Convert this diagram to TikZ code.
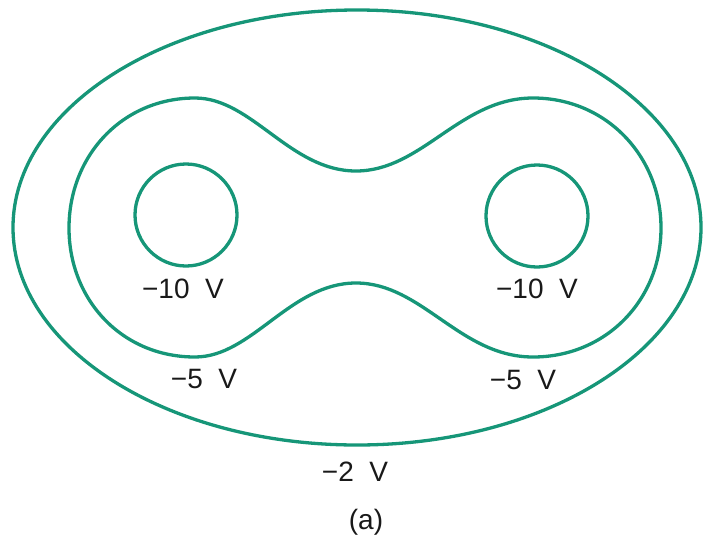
\documentclass[tikz,border=0pt]{standalone}
\usepackage{fontspec}
\setmainfont{Liberation Sans}
\definecolor{eqline}{RGB}{22,150,120}
\definecolor{labeltext}{RGB}{25,25,25}
\begin{document}
\begin{tikzpicture}[x=1pt,y=-1pt,
  contour/.style={draw=eqline,line width=3.3pt},
  vlabel/.style={text=labeltext,font=\fontsize{28}{30}\selectfont,inner sep=0pt}]
\useasboundingbox (0,0) rectangle (713,547);
% outer -2 V
\draw[contour] (357,227.5) ellipse [x radius=344, y radius=217.5];
% -5 V peanut
\draw[contour] (69,228)
  .. controls (69,156) and (122,98) .. (195,98)
  .. controls (252,98) and (290,171) .. (356,171)
  .. controls (422,171) and (460,98) .. (533,98)
  .. controls (606,98) and (661,156) .. (661,228)
  .. controls (661,300) and (606,357) .. (533,357)
  .. controls (460,357) and (422,283) .. (356,283)
  .. controls (290,283) and (252,357) .. (195,357)
  .. controls (122,357) and (69,300) .. (69,228) -- cycle;
% -10 V circles
\draw[contour] (186,215) circle [radius=51];
\draw[contour] (537,216) circle [radius=51];
% labels
\node[vlabel] (l10a) at (183,289) {−10\ \ V};
\node[vlabel] (l10b) at (537,289) {−10\ \ V};
\node[vlabel] (l5a) at (204,379) {−5\ \ V};
\node[vlabel] (l5b) at (523,380) {−5\ \ V};
\node[vlabel] (l2) at (355,472) {−2\ \ V};
\node[vlabel] (cap) at (366,522) {(a)};
\end{tikzpicture}
\end{document}
